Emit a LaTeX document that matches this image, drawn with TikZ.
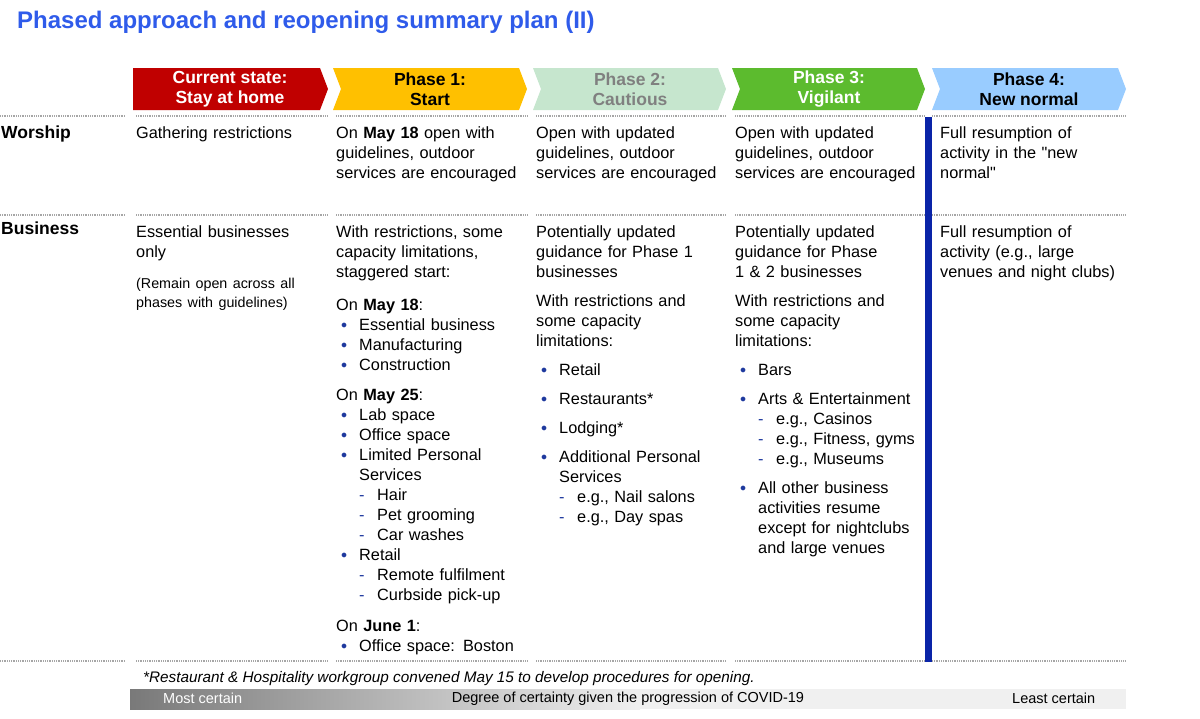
\documentclass[tikz,border=0pt]{standalone}
\usepackage{fontspec}
\setmainfont{Liberation Sans}
\usetikzlibrary{calc}
\definecolor{tblue}{HTML}{2F5BEA}
\definecolor{cred}{HTML}{C00000}
\definecolor{cyel}{HTML}{FFC000}
\definecolor{cpale}{HTML}{C6E6CE}
\definecolor{cgreen}{HTML}{5CBB2E}
\definecolor{clblue}{HTML}{99CCFF}
\definecolor{bar}{HTML}{0A24A8}
\definecolor{bul}{HTML}{1F3A9E}
\newcommand{\bl}[1]{\par\hangindent=23pt\hangafter=1\noindent\makebox[23pt][l]{\hspace{5pt}\textcolor{bul}{\raisebox{2pt}{\scalebox{0.7}{$\bullet$}}}}#1}
\newcommand{\ds}[1]{\par\noindent\hspace{23pt}\makebox[18pt][l]{\textcolor{bul}{-}}#1}
\newcommand{\gap}[1]{\par\vspace{#1pt}}
\newcommand{\nohy}{\hyphenpenalty=10000\exhyphenpenalty=10000\relax}
\begin{document}
\begin{tikzpicture}[x=1pt,y=-1pt,
  cell/.style={anchor=north west,inner sep=0pt,text width=192pt,align=left,font=\fontsize{16.3}{20}\selectfont,execute at begin node=\nohy},
  hdr/.style={align=center,font=\bfseries\fontsize{17.5}{20.5}\selectfont},
  rowlbl/.style={anchor=north west,inner sep=0pt,font=\bfseries\fontsize{17.5}{20}\selectfont},
  dots/.style={gray!70,line width=1.2pt,dash pattern=on 0.6pt off 1.2pt}]
\useasboundingbox (0,0) rectangle (1200,718);
\node[anchor=west,inner sep=0pt,text=tblue,font=\bfseries\fontsize{24}{26}\selectfont] (title) at (17,22) {Phased approach and reopening summary plan (II)};
% chevrons
\fill[cred] (133,68)--(320,68)--(328,89)--(320,110)--(133,110)--cycle;
\fill[cyel] (333,68)--(519,68)--(527,89)--(519,110)--(333,110)--(341,89)--cycle;
\fill[cpale] (533,68)--(718,68)--(726,89)--(718,110)--(533,110)--(541,89)--cycle;
\fill[cgreen] (732,68)--(917,68)--(925,89)--(917,110)--(732,110)--(740,89)--cycle;
\fill[clblue] (932,68)--(1118,68)--(1126,89)--(1118,110)--(932,110)--(940,89)--cycle;
\node[hdr,text=white] (h0) at (230,89) {Current state:\\Stay at home};
\node[hdr,text=black] (h1) at (430,89) {Phase 1:\\Start};
\node[hdr,text=gray] (h2) at (630,89) {Phase 2:\\Cautious};
\node[hdr,text=white] (h3) at (829,89) {Phase 3:\\Vigilant};
\node[hdr,text=black] (h4) at (1029,89) {Phase 4:\\New normal};
% dotted separators
\foreach \y in {116,215,661}{
  \draw[dots] (0,\y)--(125,\y);
  \foreach \a/\b in {136/328,336/527,536/726,735/925,932/1126}{\draw[dots] (\a,\y)--(\b,\y);}
}
\fill[bar] (925,117) rectangle (932,662);
% row labels
\node[rowlbl] (rw) at (1,126) {Worship};
\node[rowlbl] (rb) at (1,222) {Business};
% worship row
\node[cell] (w0) at (136,126) {Gathering restrictions};
\node[cell] (w1) at (336,126) {On \textbf{May 18} open with guidelines, outdoor services are encouraged};
\node[cell] (w2) at (536,126) {Open with updated guidelines, outdoor services are encouraged};
\node[cell] (w3) at (735,126) {Open with updated guidelines, outdoor services are encouraged};
\node[cell,text width=180pt] (w4) at (940,126) {Full resumption of activity in the \textquotedbl new normal\textquotedbl};
% business row
\node[cell] (b0) at (136,225) {Essential businesses\\only\gap{12}{\fontsize{14.3}{19}\selectfont (Remain open across all phases with guidelines)\par}};
\node[cell] (b1) at (336,225) {With restrictions, some capacity limitations, staggered start:\gap{13}
On \textbf{May 18}:
\bl{Essential business}\bl{Manufacturing}\bl{Construction}\gap{10}
\noindent On \textbf{May 25}:
\bl{Lab space}\bl{Office space}\bl{Limited Personal Services}\ds{Hair}\ds{Pet grooming}\ds{Car washes}\bl{Retail}\ds{Remote fulfilment}\ds{Curbside pick-up}\gap{11}
\noindent On \textbf{June 1}:
\bl{Office space: Boston}\par};
\node[cell] (b2) at (536,225) {Potentially updated\newline guidance for Phase 1\newline businesses\gap{9}
\noindent With restrictions and\newline some capacity\newline limitations:\gap{9}
\bl{Retail}\gap{9}\bl{Restaurants*}\gap{9}\bl{Lodging*}\gap{9}\bl{Additional Personal\newline Services}\ds{e.g., Nail salons}\ds{e.g., Day spas}\par};
\node[cell] (b3) at (735,225) {Potentially updated\newline guidance for Phase\newline 1 \& 2 businesses\gap{9}
\noindent With restrictions and\newline some capacity\newline limitations:\gap{9}
\bl{Bars}\gap{9}\bl{Arts \& Entertainment}\ds{e.g., Casinos}\ds{e.g., Fitness, gyms}\ds{e.g., Museums}\gap{9}\bl{All other business\newline activities resume\newline except for nightclubs\newline and large venues}\par};
\node[cell,text width=185pt] (b4) at (940,225) {Full resumption of activity (e.g., large venues and night clubs)};
% footnote
\node[anchor=west,inner sep=0pt,font=\itshape\fontsize{15.3}{17}\selectfont] (fn) at (143,679) {*Restaurant \& Hospitality workgroup convened May 15 to develop procedures for opening.};
\shade[left color=gray!95!black,right color=gray!12] (130,689) rectangle (640,709);
\fill[gray!12] (639.5,689) rectangle (1126,709);
\node[anchor=west,inner sep=0pt,text=white,font=\fontsize{14.5}{16}\selectfont] (mc) at (163,698) {Most certain};
\node[inner sep=0pt,font=\fontsize{14.5}{16}\selectfont] (dc) at (628,699) {Degree of certainty given the progression of COVID-19};
\node[anchor=west,inner sep=0pt,font=\fontsize{14.5}{16}\selectfont] (lc) at (1012,698) {Least certain};
\end{tikzpicture}
\end{document}
